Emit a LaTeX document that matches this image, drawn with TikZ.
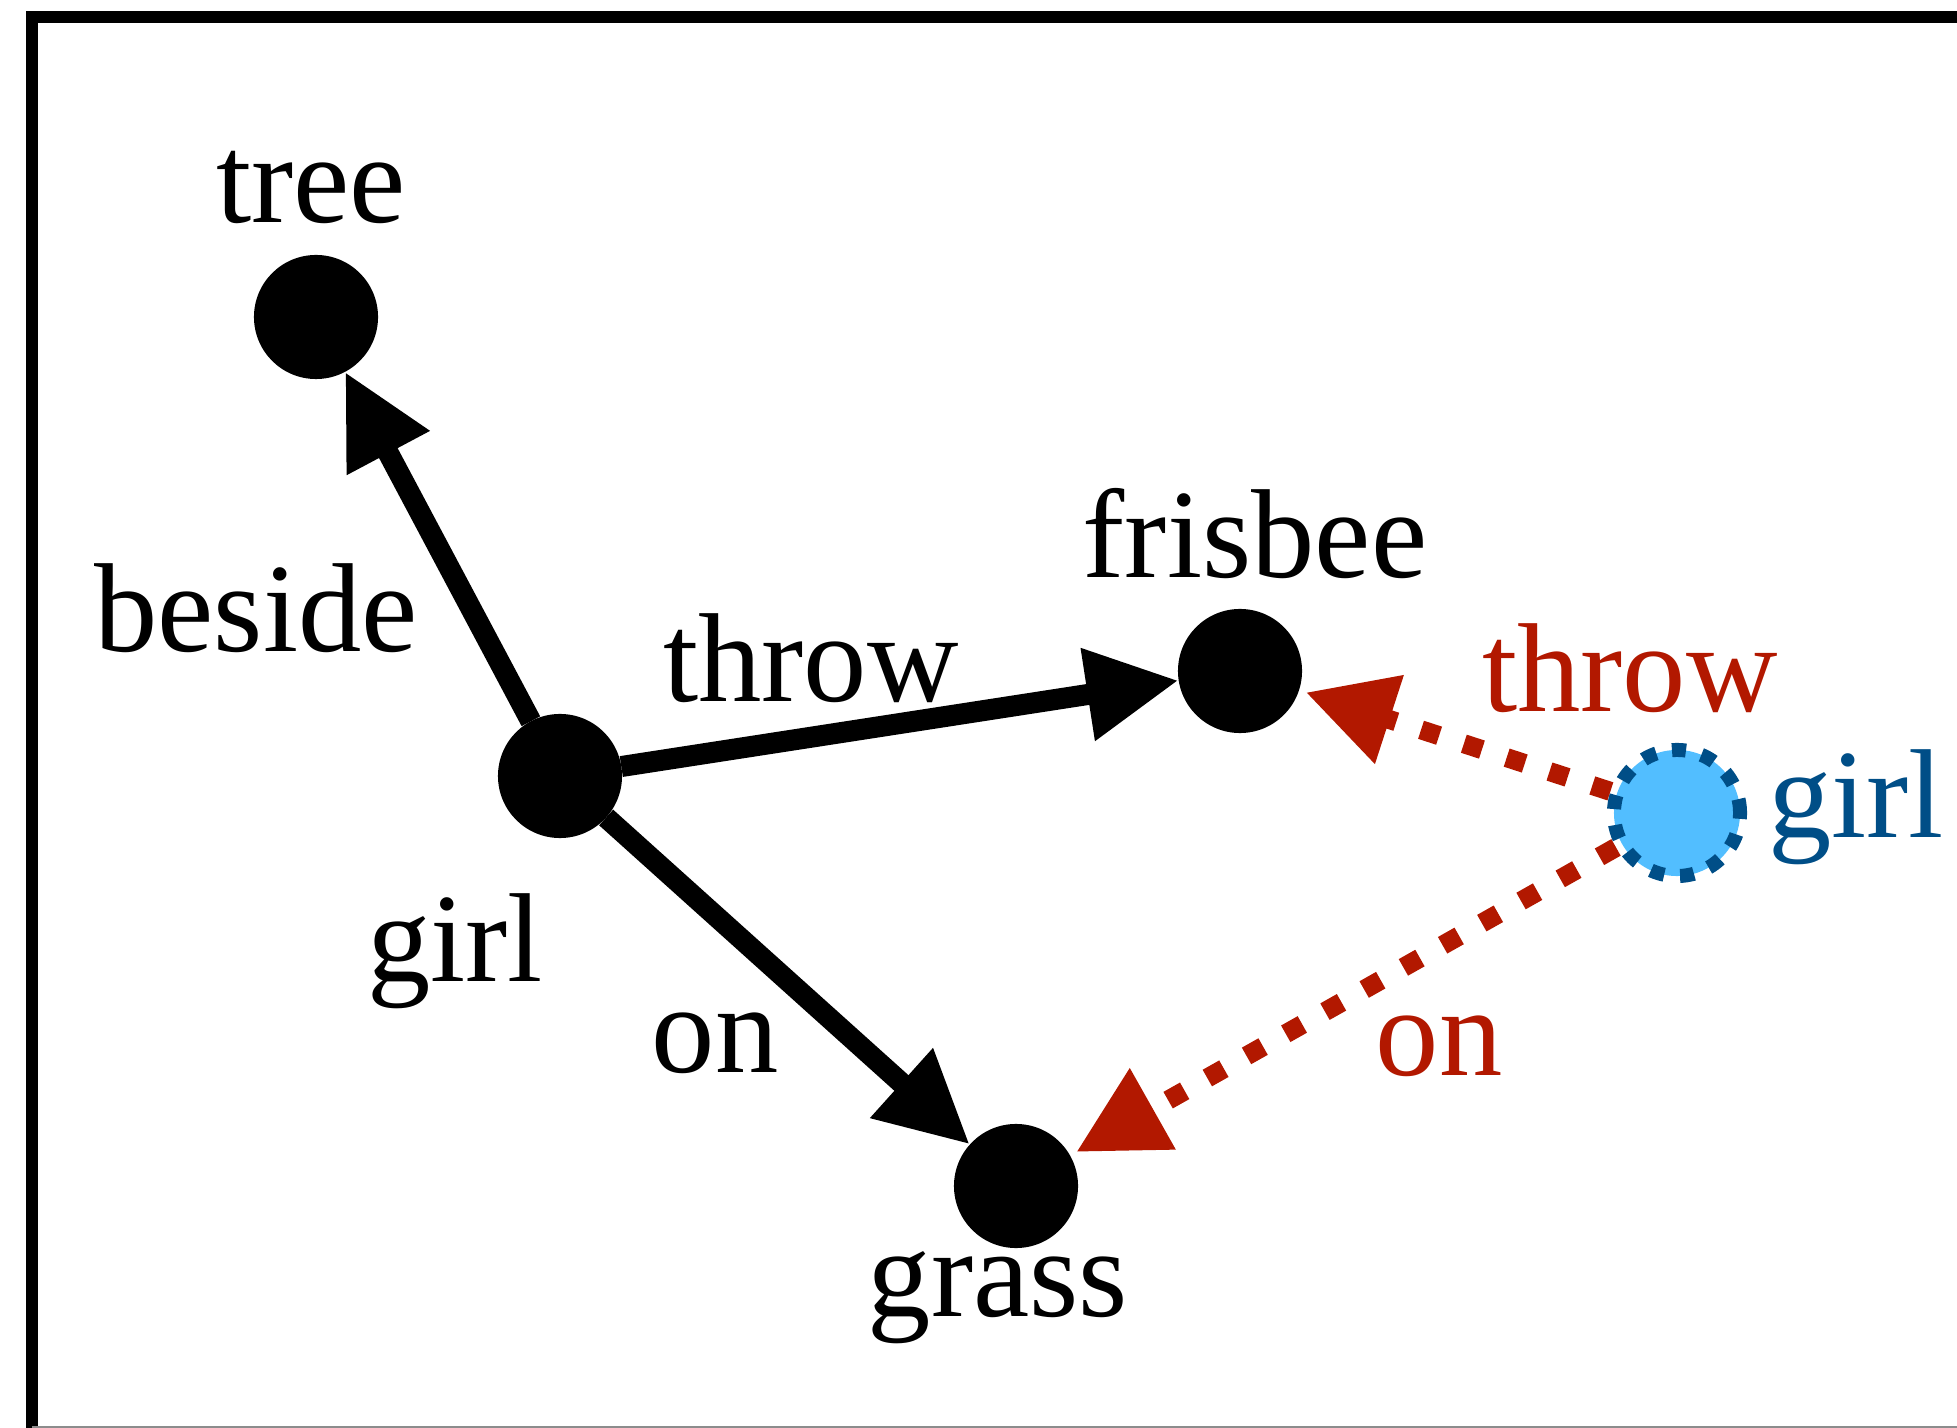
\documentclass[tikz,border=0pt]{standalone}
\usepackage{fontspec}
\setmainfont{Liberation Serif}
\usetikzlibrary{arrows.meta}
\definecolor{relred}{RGB}{178,24,0}
\definecolor{newblue}{RGB}{0,78,135}
\definecolor{newfill}{RGB}{82,190,255}
\begin{document}
\begin{tikzpicture}[x=0.01cm,y=-0.01cm,
  every node/.style={font=\fontsize{36pt}{40pt}\selectfont, inner sep=0pt},
  obj/.style={circle, fill=black, minimum size=1.24cm, outer sep=0pt},
  newobj/.style={circle, fill=newfill, draw=newblue, line width=0.14cm,
    dash pattern=on 0.14cm off 0.16cm, minimum size=1.26cm, outer sep=0.07cm},
  edge/.style={line width=0.21cm, -{Triangle[length=0.92cm,width=0.88cm]}},
  newedge/.style={line width=0.19cm, relred, dash pattern=on 0.19cm off 0.26cm,
    -{Triangle[length=0.88cm,width=0.88cm]}, shorten >=0.07cm},
  lbl/.style={text=black},
  rlbl/.style={text=relred}]
\useasboundingbox (0,0) rectangle (1957,1428);
% frame
\draw[line width=0.12cm] (32,1440) -- (32,17) -- (1980,17);
\draw[line width=0.03cm, black!45] (32,1427.5) -- (1960,1427.5);
% nodes
\node[obj] (tree) at (316,317) {};
\node[obj] (girl) at (560,776) {};
\node[obj] (frisbee) at (1240,671) {};
\node[obj] (grass) at (1016,1186) {};
\node[newobj] (ngirl) at (1677,813) {};
% node labels
\node[lbl] (ltree) at (311,187) {tree};
\node[lbl] (lfrisbee) at (1255,534) {frisbee};
\node[lbl] (lgirl) at (455,951) {girl};
\node[lbl] (lgrass) at (998,1298) {grass};
\node[text=newblue] (lngirl) at (1856,807) {girl};
% edges
\draw[edge] (girl) -- (tree);
\draw[edge] (girl) -- (frisbee);
\draw[edge] (girl) -- (grass);
\draw[newedge] (ngirl) -- (frisbee);
\draw[newedge] (ngirl) -- (grass);
% edge labels
\node[lbl] (lbeside) at (256,608) {beside};
\node[lbl] (lthrow) at (811,658) {throw};
\node[lbl] (lon) at (715,1043) {on};
\node[rlbl] (rthrow) at (1630,668) {throw};
\node[rlbl] (ron) at (1439,1046) {on};
\end{tikzpicture}
\end{document}
